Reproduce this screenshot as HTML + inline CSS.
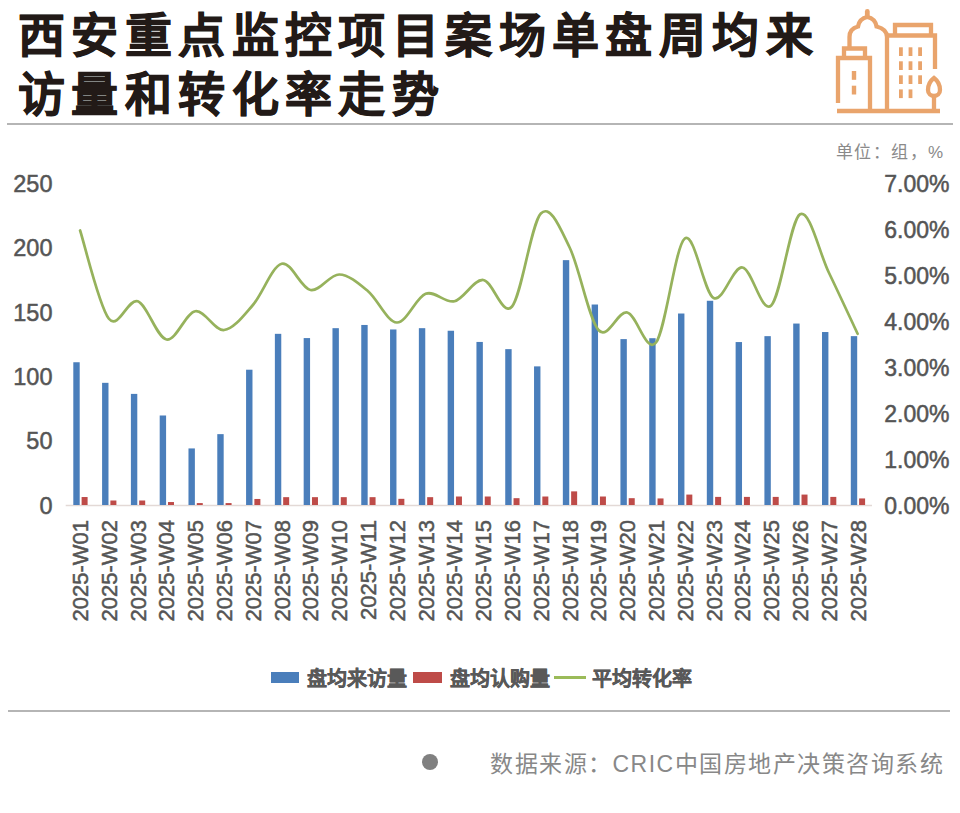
<!DOCTYPE html>
<html lang="zh-CN"><head><meta charset="utf-8">
<style>
html,body{margin:0;padding:0;background:#fff;}
body{width:960px;height:813px;position:relative;overflow:hidden;font-family:"Liberation Sans",sans-serif;}
.t{position:absolute;left:18px;font-size:47px;font-weight:bold;letter-spacing:6.4px;color:#221a17;-webkit-text-stroke:0.8px #221a17;white-space:nowrap;line-height:1;}
.ax{font-family:"Liberation Sans",sans-serif;font-size:23.5px;fill:#555;stroke:#555;stroke-width:0.5px;}
.xl{font-size:22px;}
.rule{position:absolute;height:2px;background:#b5b5b5;}
.leg{position:absolute;font-size:20px;font-weight:bold;color:#595959;-webkit-text-stroke:0.4px #595959;white-space:nowrap;line-height:1;}
.sw{position:absolute;height:11px;}
</style></head><body>
<div class="t" style="top:11.5px">西安重点监控项目案场单盘周均来</div>
<div class="t" style="top:70.5px">访量和转化率走势</div>
<svg width="140" height="120" viewBox="820 0 140 120" style="position:absolute;left:820px;top:0" fill="none" stroke="#e9a46c" stroke-width="4.3">
<path d="M838,103 V58 H870 V111"/>
<path d="M844,57 V48.5 H865 V57"/>
<path d="M849.5,48 V37 C849.5,31 852,28 858,26.5 C859,21 862,18 867.3,17 M867.3,17 C872.6,18 875.6,21 876.6,26.5 C882.6,28 887,31 887,37 V111"/>
<path d="M867.3,16 V11.5" stroke-linecap="round" stroke-width="4.8"/>
<path d="M887,35.5 H935 V69"/>
<path d="M895,35 V25 H931 V35"/>
<path d="M837,111 H940"/>
<path d="M934,111 V96"/>
<path d="M934,78 C930,81 928,86 928,90 C928,94 931,96 934,96 C937,96 940,94 940,90 C940,86 938,81 934,78 Z"/>
<g fill="#e9a46c" stroke="none">
<rect x="851.8" y="71" width="4.4" height="8.8"/><rect x="851.8" y="85.7" width="4.4" height="8.8"/>
<rect x="899" y="47.3" width="3.8" height="8.7"/><rect x="908.6" y="47.3" width="3.8" height="8.7"/><rect x="918.2" y="47.3" width="3.8" height="8.7"/>
<rect x="899" y="61.3" width="3.8" height="8.7"/><rect x="908.6" y="61.3" width="3.8" height="8.7"/><rect x="918.2" y="61.3" width="3.8" height="8.7"/>
<rect x="899" y="75.3" width="3.8" height="8.7"/><rect x="908.6" y="75.3" width="3.8" height="8.7"/><rect x="918.2" y="75.3" width="3.8" height="8.7"/>
<rect x="899" y="89.4" width="3.8" height="8.7"/><rect x="908.6" y="89.4" width="3.8" height="8.7"/>
</g>
</svg>
<div class="rule" style="left:7px;top:123px;width:946px;"></div>
<div style="position:absolute;left:835.5px;top:142.5px;font-size:17px;color:#8a8a8a;white-space:nowrap;line-height:1.2;letter-spacing:1.5px">单位：组，%</div>
<svg width="960" height="813" style="position:absolute;left:0;top:0">
<line x1="65.7" y1="505.5" x2="872.0" y2="505.5" stroke="#e3d9d6" stroke-width="1.5"/>
<rect x="73.30" y="362.25" width="6.4" height="142.75" fill="#4a7ebb"/>
<rect x="81.60" y="497.03" width="6" height="7.97" fill="#be4b48"/>
<rect x="102.09" y="382.83" width="6.4" height="122.17" fill="#4a7ebb"/>
<rect x="110.39" y="500.50" width="6" height="4.50" fill="#be4b48"/>
<rect x="130.89" y="393.89" width="6.4" height="111.11" fill="#4a7ebb"/>
<rect x="139.19" y="500.50" width="6" height="4.50" fill="#be4b48"/>
<rect x="159.69" y="415.49" width="6.4" height="89.51" fill="#4a7ebb"/>
<rect x="167.99" y="502.04" width="6" height="2.96" fill="#be4b48"/>
<rect x="188.48" y="448.42" width="6.4" height="56.58" fill="#4a7ebb"/>
<rect x="196.78" y="503.07" width="6" height="1.93" fill="#be4b48"/>
<rect x="217.28" y="434.14" width="6.4" height="70.86" fill="#4a7ebb"/>
<rect x="225.58" y="503.07" width="6" height="1.93" fill="#be4b48"/>
<rect x="246.08" y="369.71" width="6.4" height="135.29" fill="#4a7ebb"/>
<rect x="254.38" y="498.96" width="6" height="6.04" fill="#be4b48"/>
<rect x="274.87" y="333.83" width="6.4" height="171.17" fill="#4a7ebb"/>
<rect x="283.17" y="497.16" width="6" height="7.84" fill="#be4b48"/>
<rect x="303.67" y="338.08" width="6.4" height="166.92" fill="#4a7ebb"/>
<rect x="311.97" y="497.16" width="6" height="7.84" fill="#be4b48"/>
<rect x="332.47" y="328.17" width="6.4" height="176.83" fill="#4a7ebb"/>
<rect x="340.77" y="497.16" width="6" height="7.84" fill="#be4b48"/>
<rect x="361.26" y="324.96" width="6.4" height="180.04" fill="#4a7ebb"/>
<rect x="369.56" y="497.16" width="6" height="7.84" fill="#be4b48"/>
<rect x="390.06" y="329.46" width="6.4" height="175.54" fill="#4a7ebb"/>
<rect x="398.36" y="498.83" width="6" height="6.17" fill="#be4b48"/>
<rect x="418.86" y="328.17" width="6.4" height="176.83" fill="#4a7ebb"/>
<rect x="427.16" y="497.16" width="6" height="7.84" fill="#be4b48"/>
<rect x="447.65" y="330.75" width="6.4" height="174.25" fill="#4a7ebb"/>
<rect x="455.95" y="496.51" width="6" height="8.49" fill="#be4b48"/>
<rect x="476.45" y="341.94" width="6.4" height="163.06" fill="#4a7ebb"/>
<rect x="484.75" y="496.51" width="6" height="8.49" fill="#be4b48"/>
<rect x="505.24" y="349.14" width="6.4" height="155.86" fill="#4a7ebb"/>
<rect x="513.54" y="498.18" width="6" height="6.82" fill="#be4b48"/>
<rect x="534.04" y="366.37" width="6.4" height="138.63" fill="#4a7ebb"/>
<rect x="542.34" y="496.51" width="6" height="8.49" fill="#be4b48"/>
<rect x="562.84" y="260.15" width="6.4" height="244.85" fill="#4a7ebb"/>
<rect x="571.14" y="491.37" width="6" height="13.63" fill="#be4b48"/>
<rect x="591.63" y="304.51" width="6.4" height="200.49" fill="#4a7ebb"/>
<rect x="599.93" y="496.51" width="6" height="8.49" fill="#be4b48"/>
<rect x="620.43" y="339.11" width="6.4" height="165.89" fill="#4a7ebb"/>
<rect x="628.73" y="498.18" width="6" height="6.82" fill="#be4b48"/>
<rect x="649.23" y="338.21" width="6.4" height="166.79" fill="#4a7ebb"/>
<rect x="657.53" y="498.44" width="6" height="6.56" fill="#be4b48"/>
<rect x="678.02" y="313.51" width="6.4" height="191.49" fill="#4a7ebb"/>
<rect x="686.32" y="494.58" width="6" height="10.42" fill="#be4b48"/>
<rect x="706.82" y="300.78" width="6.4" height="204.22" fill="#4a7ebb"/>
<rect x="715.12" y="496.90" width="6" height="8.10" fill="#be4b48"/>
<rect x="735.62" y="342.06" width="6.4" height="162.94" fill="#4a7ebb"/>
<rect x="743.92" y="496.90" width="6" height="8.10" fill="#be4b48"/>
<rect x="764.41" y="336.15" width="6.4" height="168.85" fill="#4a7ebb"/>
<rect x="772.71" y="496.90" width="6" height="8.10" fill="#be4b48"/>
<rect x="793.21" y="323.55" width="6.4" height="181.45" fill="#4a7ebb"/>
<rect x="801.51" y="494.58" width="6" height="10.42" fill="#be4b48"/>
<rect x="822.01" y="332.03" width="6.4" height="172.97" fill="#4a7ebb"/>
<rect x="830.31" y="496.90" width="6" height="8.10" fill="#be4b48"/>
<rect x="850.80" y="336.15" width="6.4" height="168.85" fill="#4a7ebb"/>
<rect x="859.10" y="498.44" width="6" height="6.56" fill="#be4b48"/>
<path d="M80.10,230.50 C84.90,245.21 99.30,306.96 108.89,318.75 C118.49,330.54 128.09,297.79 137.69,301.25 C147.29,304.71 156.89,337.83 166.49,339.50 C176.09,341.17 185.69,312.83 195.28,311.25 C204.88,309.67 214.48,331.04 224.08,330.00 C233.68,328.96 243.28,316.04 252.88,305.00 C262.48,293.96 272.07,266.25 281.67,263.75 C291.27,261.25 300.87,288.21 310.47,290.00 C320.07,291.79 329.67,274.29 339.27,274.50 C348.86,274.71 358.46,283.25 368.06,291.25 C377.66,299.25 387.26,322.08 396.86,322.50 C406.46,322.92 416.06,297.29 425.66,293.75 C435.25,290.21 444.85,303.54 454.45,301.25 C464.05,298.96 473.65,279.12 483.25,280.00 C492.85,280.88 502.45,317.58 512.04,306.50 C521.64,295.42 531.24,223.33 540.84,213.50 C550.44,203.67 560.04,228.08 569.64,247.50 C579.24,266.92 588.84,319.17 598.43,330.00 C608.03,340.83 617.63,310.42 627.23,312.50 C636.83,314.58 646.43,354.83 656.03,342.50 C665.63,330.17 675.22,245.92 684.82,238.50 C694.42,231.08 704.02,293.17 713.62,298.00 C723.22,302.83 732.82,266.25 742.42,267.50 C752.01,268.75 761.61,314.38 771.21,305.50 C780.81,296.62 790.41,219.75 800.01,214.25 C809.61,208.75 819.21,252.58 828.81,272.50 C838.40,292.42 852.80,323.54 857.60,333.75" fill="none" stroke="#96b25c" stroke-width="2.7" stroke-linecap="round" stroke-linejoin="round"/>
<text x="52.5" y="513.5" text-anchor="end" class="ax">0</text>
<text x="52.5" y="449.2" text-anchor="end" class="ax">50</text>
<text x="52.5" y="384.9" text-anchor="end" class="ax">100</text>
<text x="52.5" y="320.6" text-anchor="end" class="ax">150</text>
<text x="52.5" y="256.3" text-anchor="end" class="ax">200</text>
<text x="52.5" y="192.0" text-anchor="end" class="ax">250</text>
<text x="949.5" y="513.5" text-anchor="end" class="ax" style="font-size:23px">0.00%</text>
<text x="949.5" y="467.5" text-anchor="end" class="ax" style="font-size:23px">1.00%</text>
<text x="949.5" y="421.5" text-anchor="end" class="ax" style="font-size:23px">2.00%</text>
<text x="949.5" y="375.5" text-anchor="end" class="ax" style="font-size:23px">3.00%</text>
<text x="949.5" y="329.5" text-anchor="end" class="ax" style="font-size:23px">4.00%</text>
<text x="949.5" y="283.5" text-anchor="end" class="ax" style="font-size:23px">5.00%</text>
<text x="949.5" y="237.5" text-anchor="end" class="ax" style="font-size:23px">6.00%</text>
<text x="949.5" y="191.5" text-anchor="end" class="ax" style="font-size:23px">7.00%</text>
<text transform="translate(88.10,520) rotate(-90)" text-anchor="end" class="ax xl">2025-W01</text>
<text transform="translate(116.89,520) rotate(-90)" text-anchor="end" class="ax xl">2025-W02</text>
<text transform="translate(145.69,520) rotate(-90)" text-anchor="end" class="ax xl">2025-W03</text>
<text transform="translate(174.49,520) rotate(-90)" text-anchor="end" class="ax xl">2025-W04</text>
<text transform="translate(203.28,520) rotate(-90)" text-anchor="end" class="ax xl">2025-W05</text>
<text transform="translate(232.08,520) rotate(-90)" text-anchor="end" class="ax xl">2025-W06</text>
<text transform="translate(260.88,520) rotate(-90)" text-anchor="end" class="ax xl">2025-W07</text>
<text transform="translate(289.67,520) rotate(-90)" text-anchor="end" class="ax xl">2025-W08</text>
<text transform="translate(318.47,520) rotate(-90)" text-anchor="end" class="ax xl">2025-W09</text>
<text transform="translate(347.27,520) rotate(-90)" text-anchor="end" class="ax xl">2025-W10</text>
<text transform="translate(376.06,520) rotate(-90)" text-anchor="end" class="ax xl">2025-W11</text>
<text transform="translate(404.86,520) rotate(-90)" text-anchor="end" class="ax xl">2025-W12</text>
<text transform="translate(433.66,520) rotate(-90)" text-anchor="end" class="ax xl">2025-W13</text>
<text transform="translate(462.45,520) rotate(-90)" text-anchor="end" class="ax xl">2025-W14</text>
<text transform="translate(491.25,520) rotate(-90)" text-anchor="end" class="ax xl">2025-W15</text>
<text transform="translate(520.04,520) rotate(-90)" text-anchor="end" class="ax xl">2025-W16</text>
<text transform="translate(548.84,520) rotate(-90)" text-anchor="end" class="ax xl">2025-W17</text>
<text transform="translate(577.64,520) rotate(-90)" text-anchor="end" class="ax xl">2025-W18</text>
<text transform="translate(606.43,520) rotate(-90)" text-anchor="end" class="ax xl">2025-W19</text>
<text transform="translate(635.23,520) rotate(-90)" text-anchor="end" class="ax xl">2025-W20</text>
<text transform="translate(664.03,520) rotate(-90)" text-anchor="end" class="ax xl">2025-W21</text>
<text transform="translate(692.82,520) rotate(-90)" text-anchor="end" class="ax xl">2025-W22</text>
<text transform="translate(721.62,520) rotate(-90)" text-anchor="end" class="ax xl">2025-W23</text>
<text transform="translate(750.42,520) rotate(-90)" text-anchor="end" class="ax xl">2025-W24</text>
<text transform="translate(779.21,520) rotate(-90)" text-anchor="end" class="ax xl">2025-W25</text>
<text transform="translate(808.01,520) rotate(-90)" text-anchor="end" class="ax xl">2025-W26</text>
<text transform="translate(836.81,520) rotate(-90)" text-anchor="end" class="ax xl">2025-W27</text>
<text transform="translate(865.60,520) rotate(-90)" text-anchor="end" class="ax xl">2025-W28</text>
</svg>
<div class="sw" style="left:271px;top:672px;width:28px;background:#4a7ebb"></div>
<div class="leg" style="left:307px;top:668.5px">盘均来访量</div>
<div class="sw" style="left:413px;top:672px;width:29px;background:#be4b48"></div>
<div class="leg" style="left:450px;top:668.5px">盘均认购量</div>
<div style="position:absolute;left:554px;top:675.5px;width:32px;height:3px;background:#9bbb59"></div>
<div class="leg" style="left:592px;top:668.5px">平均转化率</div>
<div class="rule" style="left:8px;top:710px;width:942px;height:1.5px"></div>
<div style="position:absolute;left:422px;top:754px;width:16px;height:16px;border-radius:50%;background:#808080"></div>
<div style="position:absolute;left:490px;top:751px;font-size:23px;font-weight:300;color:#888;white-space:nowrap;line-height:1.2;letter-spacing:1.5px">数据来源：CRIC中国房地产决策咨询系统</div>
</body></html>
